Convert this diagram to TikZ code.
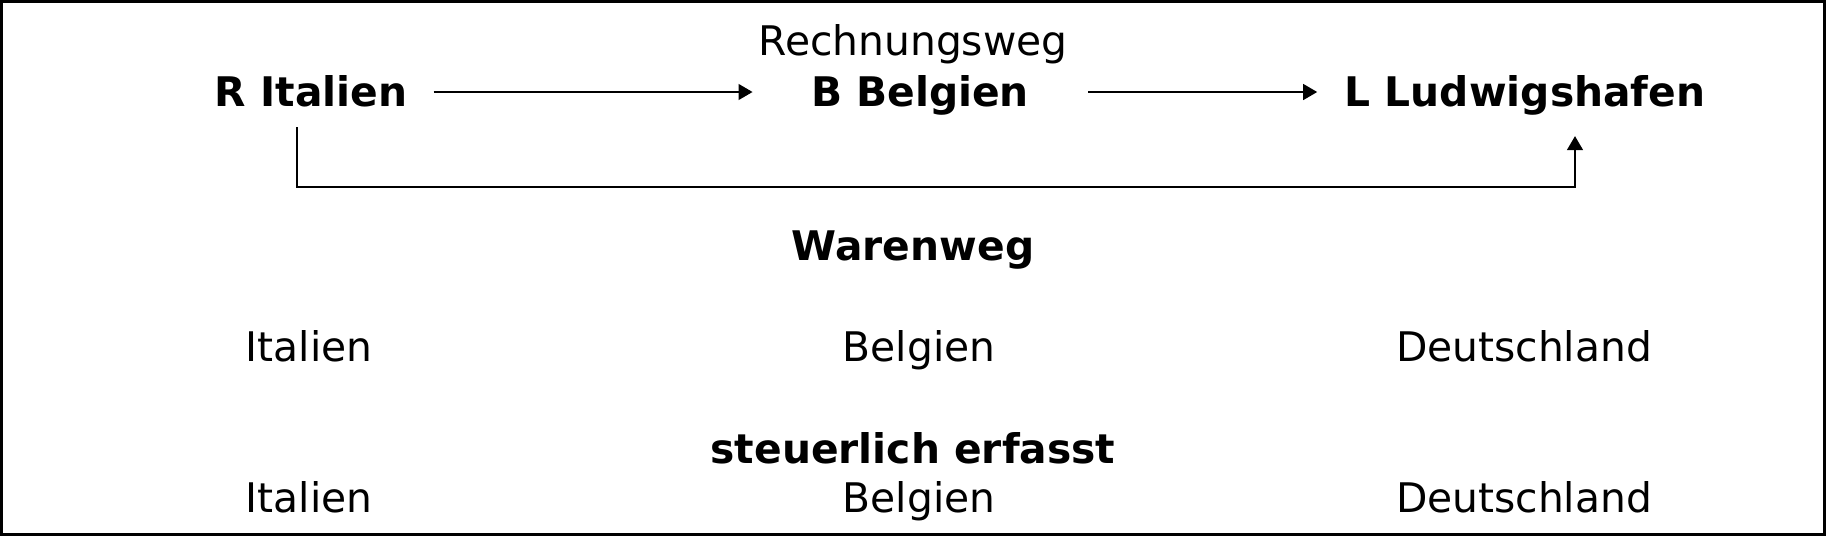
\documentclass[tikz,border=0pt]{standalone}
\usepackage{fontspec}
\setmainfont{DejaVu Sans}
\usepackage{xcolor}
\usepackage{tikz}
\usetikzlibrary{arrows.meta}

\begin{document}
\begin{tikzpicture}[
		x=0.01cm, y=-0.01cm,
		line width=0.8pt,
		place/.style={font=\fontsize{11.6}{14}\selectfont\bfseries},
		land/.style={font=\fontsize{11.6}{14}\selectfont},
		flow/.style={-{Triangle[length=4pt,width=4.4pt]}},
		every node/.style       = {inner sep=0pt, anchor=base}
		]
		\useasboundingbox (0,0) rectangle (1826,536);
		\draw (1.4,1.4) rectangle (1824.6,534.6);
		% Rechnungsweg
		\node[land] (rech) at (913,55) {Rechnungsweg};
		\node[place] (R) at (311,106) {R Italien};
		\node[place] (B) at (920,106) {B Belgien};
		\node[place] (L) at (1525,106) {L Ludwigshafen};
		\draw[flow] ([shift={(25,-14)}]R.base east) -- ([shift={(-57,-14)}]B.base west);
		\draw[flow] ([shift={(58,-14)}]B.base east) -- ([shift={(-26,-14)}]L.base west);
		% Warenweg
		\coordinate (ws) at ([shift={(-14,21)}]R.base);
		\coordinate (we) at ([shift={(50,30)}]L.base);
		\draw[flow] (ws) -- ++(0,60) -| (we);
		\node[place] (waren) at (913,260) {Warenweg};
		\node[land] (ita) at (309,361) {Italien};
		\node[land] (bea) at (919,361) {Belgien};
		\node[land] (dea) at (1524,361) {Deutschland};
		% steuerlich erfasst
		\node[place] (steuer) at (913,463) {steuerlich erfasst};
		\node[land] (itb) at (309,512) {Italien};
		\node[land] (beb) at (919,512) {Belgien};
		\node[land] (deb) at (1524,512) {Deutschland};
	\end{tikzpicture}
\end{document}
